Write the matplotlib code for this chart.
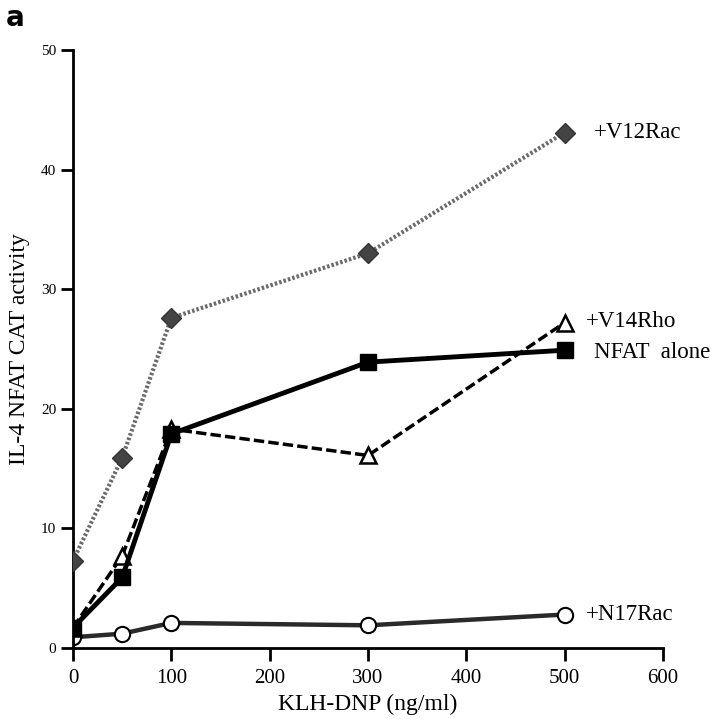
import matplotlib.pyplot as plt

# dose of KLH-DNP (ng/ml)
dose = [0, 50, 100, 300, 500]

v12rac = [7.3, 15.9, 27.6, 33.0, 43.1]
v14rho = [1.7, 7.7, 18.3, 16.1, 27.2]
nfat = [1.7, 5.9, 17.9, 23.9, 24.9]
n17rac = [0.9, 1.2, 2.1, 1.9, 2.8]

names = ['+V12Rac', '+V14Rho', 'NFAT  alone', '+N17Rac']

plt.rcParams['font.family'] = ['Liberation Serif', 'DejaVu Serif']

fig = plt.figure(figsize=(7.2, 7.19), dpi=100)
ax = fig.add_axes([0.1014, 0.0987, 0.8194, 0.8318])

ax.plot(dose, n17rac, color='#2a2a2a', lw=3.2, marker='o', ms=11,
        mfc='white', mec='black', mew=1.5, zorder=2)
ax.plot(dose, v14rho, color='black', lw=2.5, ls=(0, (3, 1.2)), marker='^', ms=11,
        mfc='white', mec='black', mew=1.8, zorder=3)
ax.plot(dose, nfat, color='black', lw=3.5, marker='s', ms=11,
        mfc='black', mec='black', zorder=4)
ax.plot(dose, v12rac, color='#6a6a6a', lw=3, ls=(0, (0.6, 0.5)), marker='D', ms=10,
        mfc='#444444', mec='#333333', mew=1, zorder=5)

# series labels at the right end
ax.text(530, v12rac[-1], names[0], fontsize=16.5, va='center', ha='left')
ax.text(522, v14rho[-1] + 0.1, names[1], fontsize=16.5, va='center', ha='left')
ax.text(530, nfat[-1] - 0.2, names[2], fontsize=16.5, va='center', ha='left')
ax.text(522, n17rac[-1], names[3], fontsize=16.5, va='center', ha='left')

ax.set_xlim(0, 600)
ax.set_ylim(0, 50)
ax.set_xticks([0, 100, 200, 300, 400, 500, 600])
ax.set_yticks([0, 10, 20, 30, 40, 50])
ax.spines['top'].set_visible(False)
ax.spines['right'].set_visible(False)
ax.spines['left'].set_linewidth(2)
ax.spines['bottom'].set_linewidth(2)
ax.tick_params(axis='x', direction='out', length=9, width=2, labelsize=15, pad=6)
ax.tick_params(axis='y', direction='out', length=9, width=2, labelsize=11, pad=3)
ax.set_xlabel('KLH-DNP (ng/ml)', fontsize=17, labelpad=4)
ax.set_ylabel('IL-4 NFAT CAT activity', fontsize=17, labelpad=8)

fig.text(0.008, 0.994, 'a', fontsize=20, fontweight='bold', family='DejaVu Sans',
         va='top', ha='left')

plt.savefig('out.png', dpi=100)
